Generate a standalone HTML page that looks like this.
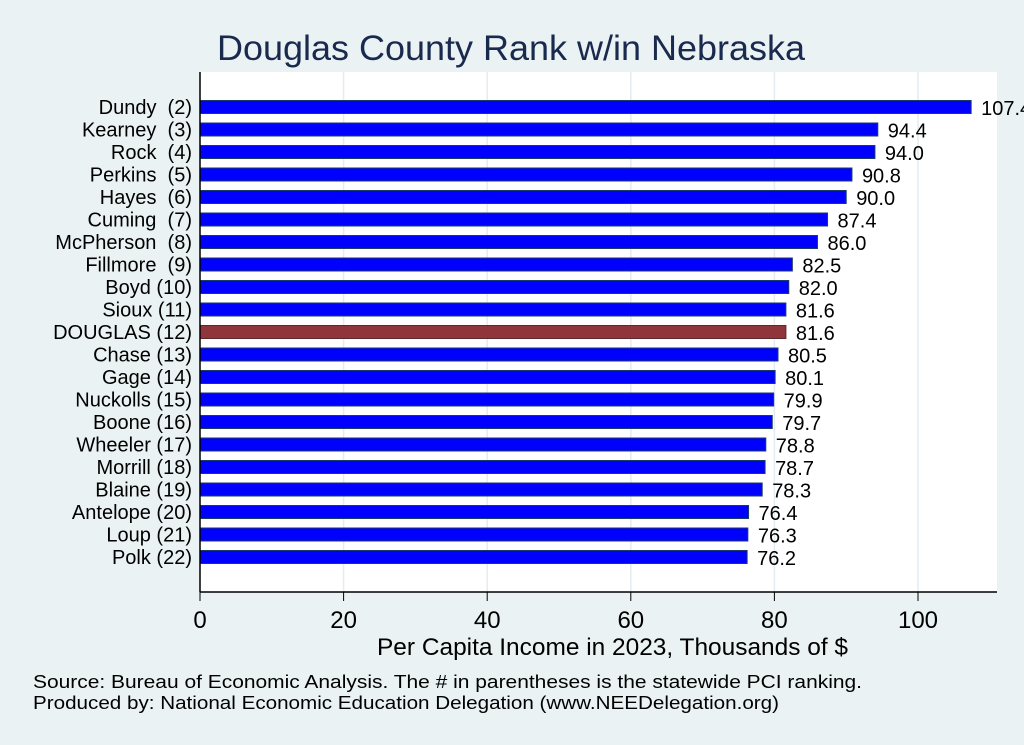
<!DOCTYPE html>
<html><head><meta charset="utf-8"><style>
body{margin:0;background:#eaf2f3;font-family:"Liberation Sans",sans-serif}
svg{display:block}
text{white-space:pre}
</style></head><body>
<svg id="chart" width="1024" height="745">
<rect width="1024" height="745" fill="#eaf2f3"/>
<text x="217" y="60" font-size="35" fill="#1a2a4e" textLength="588" lengthAdjust="spacingAndGlyphs">Douglas County Rank w/in Nebraska</text>
<rect x="200" y="72" width="797" height="520" fill="#fff"/>
<g id="grid"></g><g id="bars"></g><g id="axis"></g>
<text x="377" y="655" font-size="24" fill="#000" textLength="471" lengthAdjust="spacingAndGlyphs">Per Capita Income in 2023, Thousands of $</text>
<text x="33" y="688" font-size="18" fill="#000" textLength="829" lengthAdjust="spacingAndGlyphs">Source: Bureau of Economic Analysis. The # in parentheses is the statewide PCI ranking.</text>
<text x="33" y="709" font-size="18" fill="#000" textLength="746" lengthAdjust="spacingAndGlyphs">Produced by: National Economic Education Delegation (www.NEEDelegation.org)</text>
</svg>
<script>
const categories=["Dundy  (2)","Kearney  (3)","Rock  (4)","Perkins  (5)","Hayes  (6)","Cuming  (7)","McPherson  (8)","Fillmore  (9)","Boyd (10)","Sioux (11)","DOUGLAS (12)","Chase (13)","Gage (14)","Nuckolls (15)","Boone (16)","Wheeler (17)","Morrill (18)","Blaine (19)","Antelope (20)","Loup (21)","Polk (22)"];
const values=[107.4,94.4,94.0,90.8,90.0,87.4,86.0,82.5,82.0,81.6,81.6,80.5,80.1,79.9,79.7,78.8,78.7,78.3,76.4,76.3,76.2];
const highlight="DOUGLAS (12)";
const ticks=[0,20,40,60,80,100];
const NS="http://www.w3.org/2000/svg";
const x=v=>200+v*7.18;
const y=i=>107+i*22.5;
function mk(t,a,p){const e=document.createElementNS(NS,t);for(const k in a)e.setAttribute(k,a[k]);p.appendChild(e);return e;}
const g=document.getElementById('grid'),b=document.getElementById('bars'),ax=document.getElementById('axis');
ticks.forEach(t=>{
 if(t>0){const l=mk('line',{x1:x(t),x2:x(t),y1:72,y2:592,stroke:'#e4ecef','stroke-width':1.5},g);
 
 }
 const tk=mk('line',{x1:x(t),x2:x(t),y1:592,y2:601,stroke:'#000'},ax);
 
 
 const tl=mk('text',{x:x(t),y:628,'text-anchor':'middle','font-size':24},ax);tl.textContent=t;
 
 
});
const ya=mk('line',{x1:200,x2:200,y1:72,y2:592,stroke:'#000','stroke-width':1.5},ax);


const xa=mk('line',{x1:200,x2:997,y1:592,y2:592,stroke:'#000','stroke-width':1.5},ax);


categories.forEach((c,i)=>{
 const hi=c===highlight;
 const r=mk('rect',{x:200,y:y(i)-6.5,width:x(values[i])-200,height:13,fill:hi?'#90353b':'#0000ff',stroke:hi?'#5a2a2a':'#1a3a6e','stroke-width':1},b);
 
 
 const lb=mk('text',{x:192,y:y(i)+7,'text-anchor':'end','font-size':20},b);lb.textContent=c;
 
 
 const vl=mk('text',{x:x(values[i])+10,y:y(i)+8,'font-size':20},b);vl.textContent=values[i].toFixed(1);
 
 
});
</script>
</body></html>
